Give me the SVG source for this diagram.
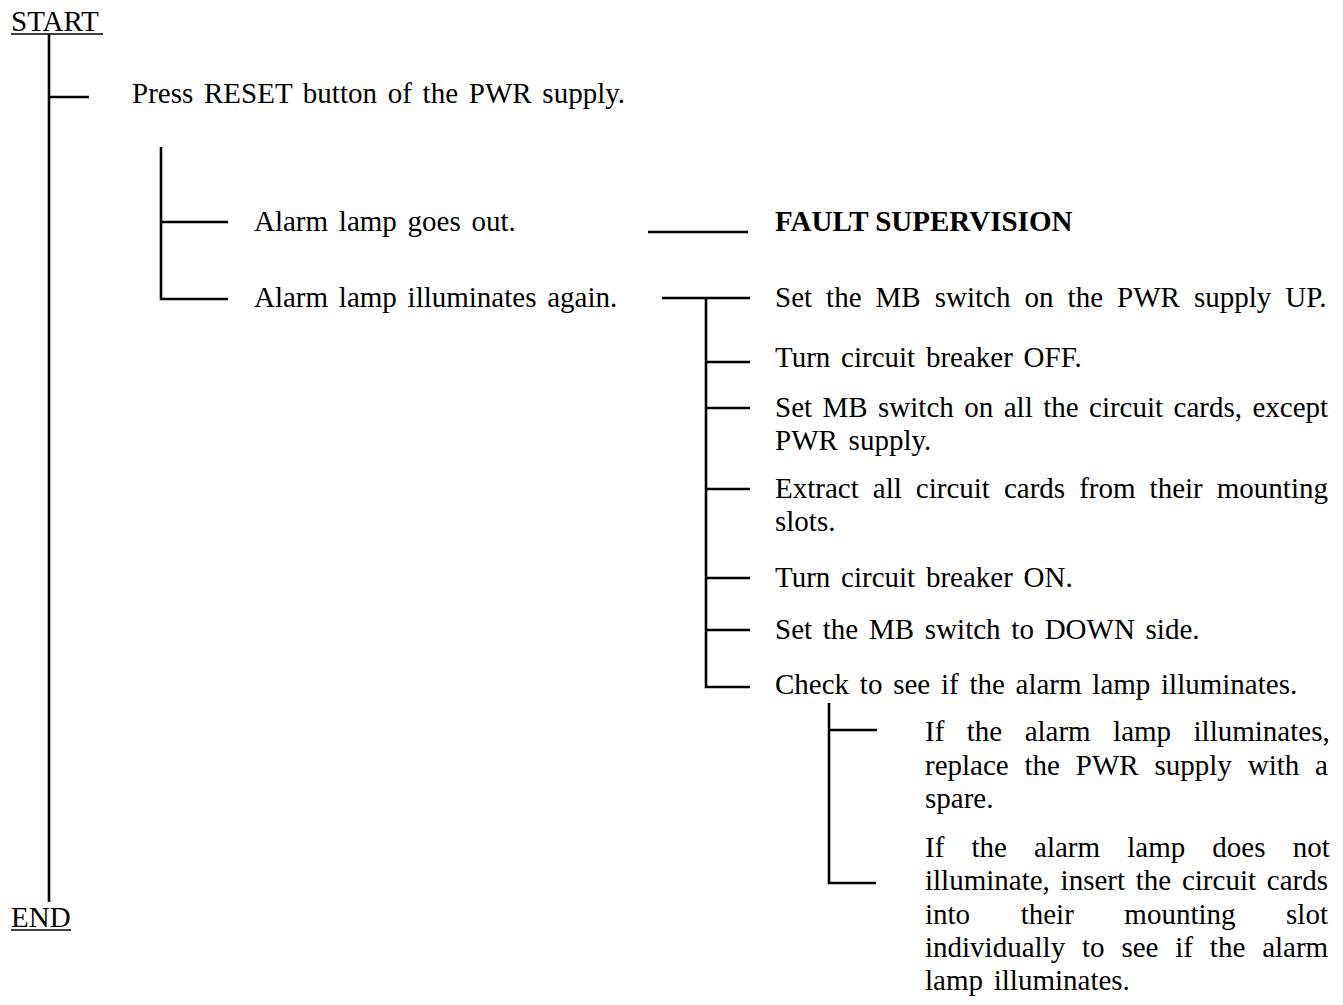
<svg xmlns="http://www.w3.org/2000/svg" width="1343" height="1005" viewBox="0 0 1343 1005">
<style>
text{font-family:"Liberation Serif","Times New Roman",serif;font-size:29px;fill:#000;word-spacing:3.5px}
.b{font-weight:bold}
.c{stroke:#000;stroke-width:2.6;fill:none;stroke-linecap:butt}
.u{stroke:#000;stroke-width:1.6}
</style>
<rect width="1343" height="1005" fill="#fff"/>
<g id="connectors">
<path class="c" d="M49 34V902"/>
<path class="c" d="M49 97H89"/>
<path class="c" d="M161 147V299H228"/>
<path class="c" d="M161 222H228"/>
<path class="c" d="M648 232H748"/>
<path class="c" d="M662 298H750"/>
<path class="c" d="M706 298V687H750"/>
<path class="c" d="M706 362H750"/>
<path class="c" d="M706 408H750"/>
<path class="c" d="M706 489H750"/>
<path class="c" d="M706 578H750"/>
<path class="c" d="M706 630H750"/>
<path class="c" d="M829 703V883H876"/>
<path class="c" d="M829 730H877"/>
</g>
<g id="start"><text x="11" y="31">START</text><line class="u" x1="11" y1="34" x2="103" y2="34"/></g>
<g id="end"><text x="11" y="927">END</text><line class="u" x1="11" y1="930" x2="71" y2="930"/></g>
<g id="press"><text x="132" y="103">Press RESET button of the PWR supply.</text></g>
<g id="goes-out"><text x="254" y="231">Alarm lamp goes out.</text></g>
<g id="illum-again"><text x="254" y="307">Alarm lamp illuminates again.</text></g>
<g id="fault"><text class="b" x="775" y="231" style="word-spacing:0">FAULT SUPERVISION</text></g>
<g id="mb-up"><text x="775" y="307" style="word-spacing:6.8px">Set the MB switch on the PWR supply UP.</text></g>
<g id="cb-off"><text x="775" y="367">Turn circuit breaker OFF.</text></g>
<g id="mb-cards"><text x="775" y="417" style="word-spacing:3.2px">Set MB switch on all the circuit cards, except</text><text x="775" y="450">PWR supply.</text></g>
<g id="extract"><text x="775" y="498" style="word-spacing:6.8px">Extract all circuit cards from their mounting</text><text x="775" y="531">slots.</text></g>
<g id="cb-on"><text x="775" y="587">Turn circuit breaker ON.</text></g>
<g id="mb-down"><text x="775" y="639">Set the MB switch to DOWN side.</text></g>
<g id="check"><text x="775" y="694">Check to see if the alarm lamp illuminates.</text></g>
<g id="if-illum"><text x="925" y="741" style="word-spacing:15.2px">If the alarm lamp illuminates,</text><text x="925" y="775" style="word-spacing:8.6px">replace the PWR supply with a</text><text x="925" y="808">spare.</text></g>
<g id="if-not"><text x="925" y="857" style="word-spacing:19.9px">If the alarm lamp does not</text><text x="925" y="890" style="word-spacing:3.5px">illuminate, insert the circuit cards</text><text x="925" y="924" style="word-spacing:43.3px">into their mounting slot</text><text x="925" y="957" style="word-spacing:9.6px">individually to see if the alarm</text><text x="925" y="990">lamp illuminates.</text></g>
</svg>
